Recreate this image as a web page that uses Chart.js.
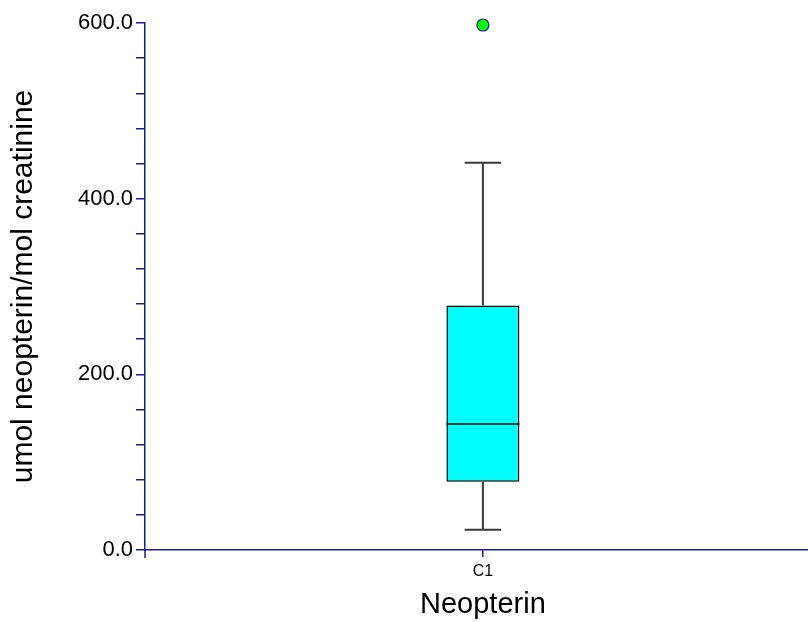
<!DOCTYPE html>
<html>
<head>
<meta charset="utf-8">
<script src="https://cdn.jsdelivr.net/npm/chart.js@4.4.1/dist/chart.umd.min.js"></script>
<style>
  html, body { margin: 0; padding: 0; background: #fff; overflow: hidden; }
  #wrap { width: 808px; height: 622px; overflow: hidden; }
</style>
</head>
<body>
<div id="wrap"><canvas id="boxChart" width="828" height="622"></canvas></div>
<script>
// Données
const categories = ["C1"];
const whiskerLow = [23];
const q1 = [77.6];
const median = [143.5];
const q3 = [278.4];
const whiskerHigh = [441];
const outliers = [597.7];

const yMin = 0;
const yMax = 600;
const yMajorStep = 200;
const yMinorStep = 40;

const axisColor = "#1a1a9c";

// Moustaches et médiane dessinées via les échelles de Chart.js
const boxExtras = {
    id: "boxExtras",
    afterDatasetsDraw(chart) {
        const { ctx, scales: { x, y } } = chart;
        const box = chart.getDatasetMeta(0).data;
        ctx.save();
        categories.forEach((cat, i) => {
            const cx = x.getPixelForValue(i);
            const half = box[i].width / 2;
            const cap = half * 0.5;
            const pTop = y.getPixelForValue(q3[i]);
            const pBot = y.getPixelForValue(q1[i]);
            const pHi = y.getPixelForValue(whiskerHigh[i]);
            const pLo = y.getPixelForValue(whiskerLow[i]);
            const pMed = y.getPixelForValue(median[i]);

            ctx.strokeStyle = "#3a3a3a";
            ctx.lineWidth = 2;
            ctx.beginPath();
            ctx.moveTo(cx, pTop); ctx.lineTo(cx, pHi);
            ctx.moveTo(cx - cap, pHi); ctx.lineTo(cx + cap, pHi);
            ctx.moveTo(cx, pBot); ctx.lineTo(cx, pLo);
            ctx.moveTo(cx - cap, pLo); ctx.lineTo(cx + cap, pLo);
            ctx.stroke();

            ctx.strokeStyle = "#000";
            ctx.lineWidth = 1.5;
            ctx.beginPath();
            ctx.moveTo(cx - half, pMed); ctx.lineTo(cx + half, pMed);
            ctx.stroke();
        });
        // prolongement de l'axe Y sous l'axe X
        ctx.strokeStyle = axisColor;
        ctx.lineWidth = 1.5;
        ctx.beginPath();
        ctx.moveTo(chart.chartArea.left, chart.chartArea.bottom);
        ctx.lineTo(chart.chartArea.left, chart.chartArea.bottom + 8);
        ctx.stroke();
        ctx.restore();
    }
};

new Chart(document.getElementById("boxChart"), {
    type: "bar",
    data: {
        labels: categories,
        datasets: [
            {
                type: "bar",
                data: q1.map((v, i) => [v, q3[i]]),
                backgroundColor: "#00ffff",
                borderColor: "#000",
                borderWidth: 1.5,
                borderSkipped: false,
                barPercentage: 0.108,
                categoryPercentage: 1,
                order: 2
            },
            {
                type: "line",
                data: outliers,
                showLine: false,
                clip: false,
                pointRadius: 6,
                pointBackgroundColor: "#00ff00",
                pointBorderColor: "#1a1a9c",
                pointBorderWidth: 1.2,
                order: 1
            }
        ]
    },
    options: {
        responsive: false,
        devicePixelRatio: 1,
        animation: false,
        layout: { padding: { left: 0, top: 23, right: 1, bottom: 0 } },
        plugins: { legend: { display: false }, tooltip: { enabled: false } },
        scales: {
            x: {
                offset: true,
                border: { color: axisColor, width: 1.5 },
                grid: { offset: false, drawOnChartArea: false, color: axisColor, tickLength: 7, lineWidth: 1.5 },
                ticks: { color: "#000", padding: 5, font: { family: "Liberation Sans, Arial", size: 16 } },
                title: {
                    display: true,
                    text: "Neopterin",
                    color: "#000",
                    padding: { top: 0, bottom: 0 },
                    font: { family: "Liberation Sans, Arial", size: 29 }
                },
                afterFit(scale) { scale.height = 72; }
            },
            y: {
                min: yMin,
                max: yMax,
                border: { color: axisColor, width: 1.5 },
                grid: { drawOnChartArea: false, color: axisColor, tickLength: 9, lineWidth: 1.5 },
                ticks: {
                    stepSize: yMinorStep,
                    color: "#000",
                    padding: 3,
                    autoSkip: false,
                    font: { family: "Liberation Sans, Arial", size: 22 },
                    callback: v => (v % yMajorStep === 0 ? v.toFixed(1) : "")
                },
                title: {
                    display: true,
                    text: "umol neopterin/mol creatinine",
                    color: "#000",
                    padding: { top: 6, bottom: 0 },
                    font: { family: "Liberation Sans, Arial", size: 30 }
                },
                afterFit(scale) { scale.width = 145; }
            }
        }
    },
    plugins: [boxExtras]
});
</script>
</body>
</html>
